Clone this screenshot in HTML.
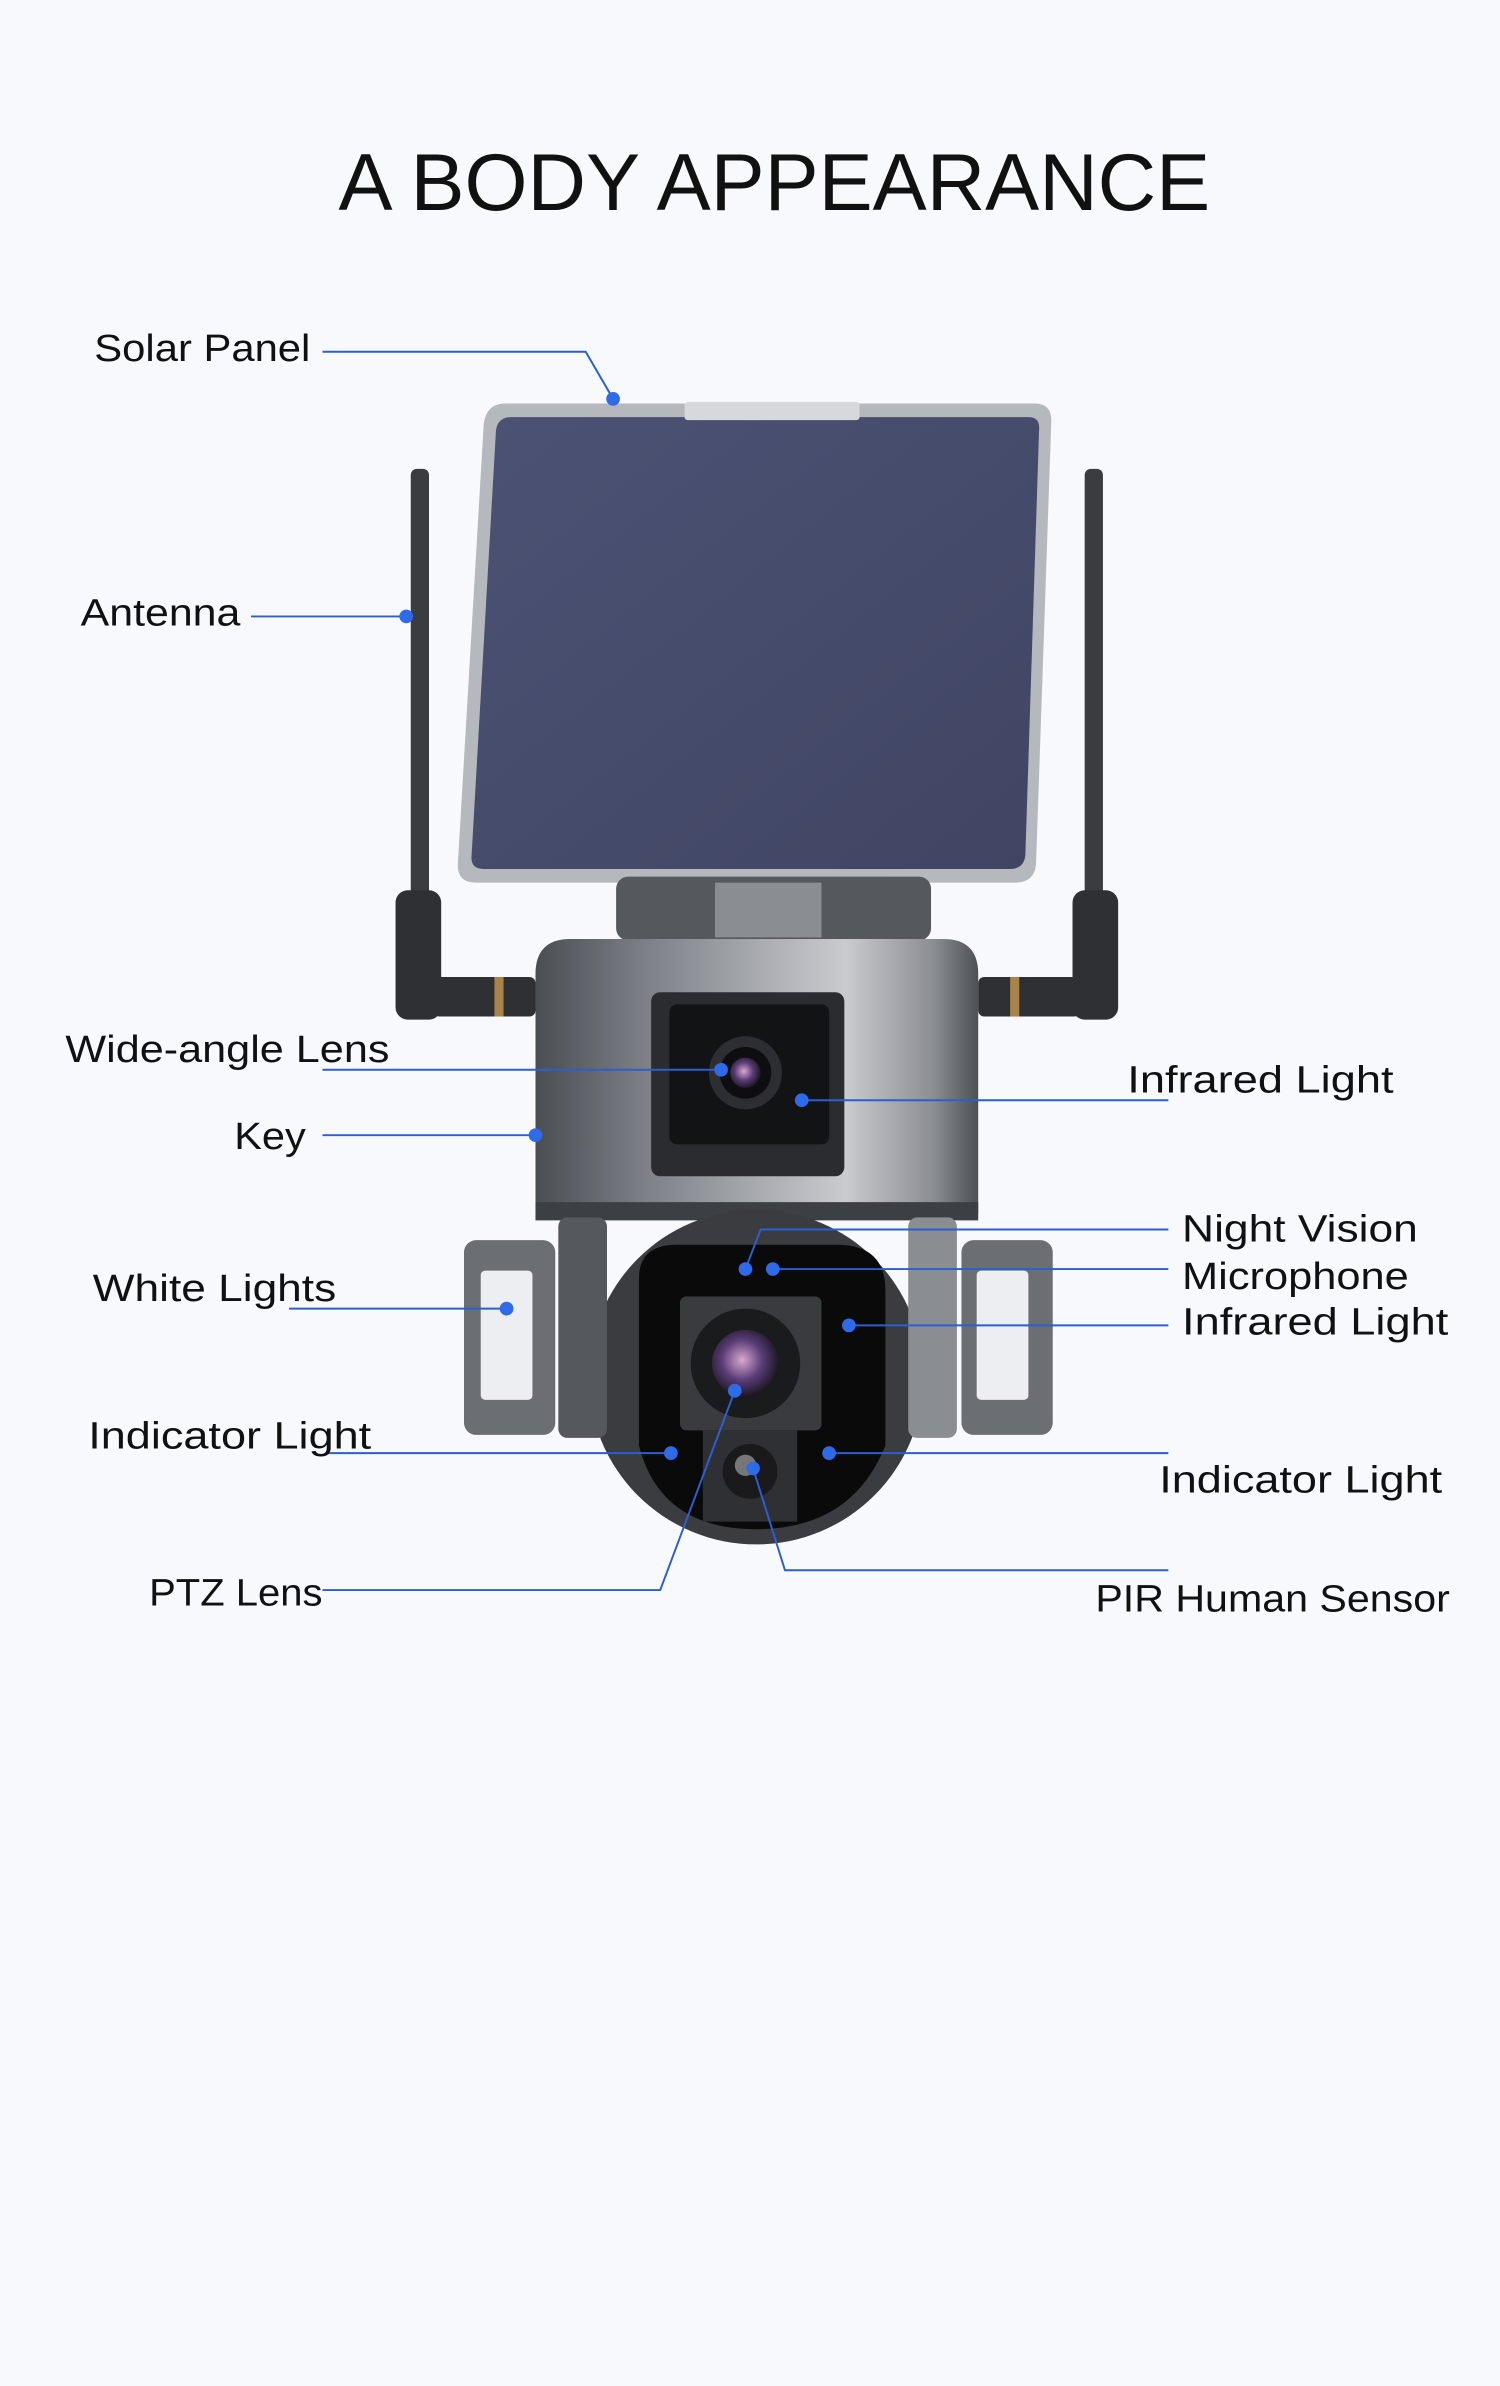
<!DOCTYPE html>
<html><head><meta charset="utf-8"><style>
html,body{margin:0;padding:0;background:#f7f9fd;}
svg{display:block;}
text{font-family:"Liberation Sans",sans-serif;fill:#111;}
</style></head><body>
<svg width="1500" height="2386" viewBox="0 0 986 1568" xmlns="http://www.w3.org/2000/svg">
<defs>
<linearGradient id="body" x1="0" x2="1" y1="0" y2="0">
<stop offset="0" stop-color="#4a4d52"/><stop offset="0.25" stop-color="#7d8187"/><stop offset="0.7" stop-color="#c9cbcf"/><stop offset="0.9" stop-color="#8a8d92"/><stop offset="1" stop-color="#4d5055"/>
</linearGradient>
<linearGradient id="panel" x1="0" x2="1" y1="0" y2="1">
<stop offset="0" stop-color="#4c5274"/><stop offset="1" stop-color="#3f4562"/>
</linearGradient>
<radialGradient id="lens" cx="0.45" cy="0.45" r="0.6">
<stop offset="0" stop-color="#d9a8d0"/><stop offset="0.5" stop-color="#5a3d78"/><stop offset="1" stop-color="#111"/>
</radialGradient>
</defs>
<rect width="986" height="1568" fill="#f7f9fd"/>
<text x="509" y="138" font-size="53" text-anchor="middle" textLength="573" lengthAdjust="spacingAndGlyphs">A BODY APPEARANCE</text>

<!-- antennas -->
<rect x="270" y="308" width="12" height="290" rx="4" fill="#3a3c40"/>
<rect x="260" y="585" width="30" height="85" rx="8" fill="#2e3034"/>
<rect x="713" y="308" width="12" height="290" rx="4" fill="#3a3c40"/>
<rect x="705" y="585" width="30" height="85" rx="8" fill="#2e3034"/>
<rect x="285" y="642" width="67" height="26" rx="4" fill="#2e3034"/>
<rect x="643" y="642" width="67" height="26" rx="4" fill="#2e3034"/>
<rect x="325" y="642" width="6" height="26" fill="#a8844a"/>
<rect x="664" y="642" width="6" height="26" fill="#a8844a"/>

<!-- solar panel -->
<path d="M332 265 L680 265 Q692 265 691 278 L681 568 Q680 580 667 580 L313 580 Q300 580 301 567 L318 278 Q320 265 332 265Z" fill="#b5b8bd"/>
<path d="M336 274 L676 274 Q684 274 683 283 L674 562 Q673 571 664 571 L318 571 Q309 571 310 562 L326 283 Q327 274 336 274Z" fill="url(#panel)"/>
<rect x="450" y="264" width="115" height="12" rx="2" fill="#d6d8dc"/>

<!-- mount -->
<rect x="405" y="576" width="207" height="42" rx="8" fill="#55585d"/>
<rect x="470" y="580" width="70" height="36" fill="#8a8d92"/>

<!-- upper body -->
<path d="M352 640 Q352 617 375 617 L620 617 Q643 617 643 640 L643 798 L352 798Z" fill="url(#body)"/>
<rect x="352" y="790" width="291" height="12" fill="#3c3f44"/>
<rect x="428" y="652" width="127" height="121" rx="6" fill="#2a2c30"/>
<rect x="440" y="660" width="105" height="92" rx="5" fill="#121315"/>
<circle cx="490" cy="705" r="24" fill="#2c2e32"/>
<circle cx="490" cy="705" r="17" fill="#0e0e10"/>
<circle cx="490" cy="705" r="10" fill="url(#lens)"/>

<!-- dome -->
<circle cx="497" cy="905" r="110" fill="#3a3c40"/>
<path d="M420 840 Q420 818 445 818 L550 818 Q582 818 582 848 L582 950 Q560 1005 497 1005 Q434 1005 420 950Z" fill="#0a0a0b"/>
<rect x="447" y="852" width="93" height="88" rx="4" fill="#3a3b3f"/>
<circle cx="490" cy="896" r="36" fill="#1a1b1d"/>
<circle cx="490" cy="896" r="22" fill="url(#lens)"/>
<rect x="462" y="940" width="62" height="60" fill="#2e3034"/>
<circle cx="493" cy="967" r="18" fill="#1a1a1c"/>
<circle cx="490" cy="963" r="7" fill="#777"/>

<!-- yoke -->
<rect x="367" y="800" width="32" height="145" rx="6" fill="#55585d"/>
<rect x="597" y="800" width="32" height="145" rx="6" fill="#8a8d92"/>

<!-- white lights -->
<rect x="305" y="815" width="60" height="128" rx="8" fill="#6b6e73"/>
<rect x="316" y="835" width="34" height="85" rx="3" fill="#eceef1"/>
<rect x="632" y="815" width="60" height="128" rx="8" fill="#6b6e73"/>
<rect x="642" y="835" width="34" height="85" rx="3" fill="#eceef1"/>

<!-- connector lines -->
<g stroke="#2b5fd0" stroke-width="1.3" fill="none">
<polyline points="212,231 385,231 403,262"/>
<polyline points="165,405 267,405"/>
<polyline points="212,703 474,703"/>
<polyline points="212,746 352,746"/>
<polyline points="190,860 333,860"/>
<polyline points="215,955 441,955"/>
<polyline points="212,1045 434,1045 483,914"/>
<polyline points="527,723 768,723"/>
<polyline points="490,834 500,808 768,808"/>
<polyline points="508,834 768,834"/>
<polyline points="558,871 768,871"/>
<polyline points="545,955 768,955"/>
<polyline points="495,965 516,1032 768,1032"/>
</g>
<g fill="#2f6ae8">
<circle cx="403" cy="262" r="4.5"/><circle cx="267" cy="405" r="4.5"/>
<circle cx="474" cy="703" r="4.5"/><circle cx="352" cy="746" r="4.5"/>
<circle cx="333" cy="860" r="4.5"/><circle cx="441" cy="955" r="4.5"/>
<circle cx="483" cy="914" r="4.5"/><circle cx="527" cy="723" r="4.5"/>
<circle cx="490" cy="834" r="4.5"/><circle cx="508" cy="834" r="4.5"/>
<circle cx="558" cy="871" r="4.5"/><circle cx="545" cy="955" r="4.5"/>
<circle cx="495" cy="965" r="4.5"/>
</g>

<!-- labels -->
<g font-size="25">
<text x="62" y="237" textLength="142" lengthAdjust="spacingAndGlyphs">Solar Panel</text>
<text x="53" y="411" textLength="105" lengthAdjust="spacingAndGlyphs">Antenna</text>
<text x="43" y="698" textLength="213" lengthAdjust="spacingAndGlyphs">Wide-angle Lens</text>
<text x="154" y="755" textLength="47" lengthAdjust="spacingAndGlyphs">Key</text>
<text x="61" y="855" textLength="160" lengthAdjust="spacingAndGlyphs">White Lights</text>
<text x="58" y="952" textLength="186" lengthAdjust="spacingAndGlyphs">Indicator Light</text>
<text x="98" y="1055" textLength="114" lengthAdjust="spacingAndGlyphs">PTZ Lens</text>
<text x="741" y="718" textLength="175" lengthAdjust="spacingAndGlyphs">Infrared Light</text>
<text x="777" y="816" textLength="155" lengthAdjust="spacingAndGlyphs">Night Vision</text>
<text x="777" y="847" textLength="149" lengthAdjust="spacingAndGlyphs">Microphone</text>
<text x="777" y="877" textLength="175" lengthAdjust="spacingAndGlyphs">Infrared Light</text>
<text x="762" y="981" textLength="186" lengthAdjust="spacingAndGlyphs">Indicator Light</text>
<text x="720" y="1059" textLength="233" lengthAdjust="spacingAndGlyphs">PIR Human Sensor</text>
</g>
</svg>
</body></html>
